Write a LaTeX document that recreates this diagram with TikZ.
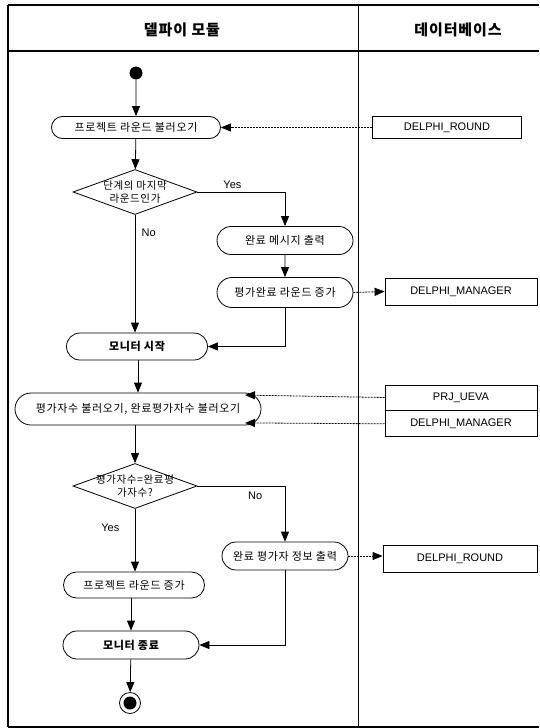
\documentclass[tikz,border=0pt]{standalone}
\usepackage{fontspec}
\setmainfont{Noto Sans CJK KR}[LetterSpace=6]
\newfontfamily\dbfont{Liberation Sans}
\usetikzlibrary{shapes.geometric, shapes.misc, arrows.meta, positioning}
\tikzset{
  actblock/.style={rounded rectangle, draw, line width=0.8pt, minimum width=140pt,
                   minimum height=28pt, inner sep=2pt,
                   font=\fontsize{11}{13}\selectfont},
  decblock/.style={diamond, draw, line width=0.8pt, minimum width=124pt,
                   minimum height=45pt, inner sep=0pt},
  dectext/.style={align=center, font=\fontsize{10.5}{13}\selectfont},
  tblblock/.style={rectangle, draw, line width=0.8pt, minimum width=152pt,
                   minimum height=26pt, inner sep=0pt,
                   font=\dbfont\fontsize{11}{13}\selectfont},
  flowarrow/.style={-{Triangle[length=10pt, width=8pt]}, line width=0.8pt},
  dataarrow/.style={flowarrow, dash pattern=on 2pt off 1pt},
  initstate/.style={circle, fill, minimum size=13pt, inner sep=0pt},
  finalstate/.style={circle, draw, thick, minimum size=21pt, inner sep=0pt,
                     path picture={\fill (path picture bounding box.center) circle (6.5pt);}},
  lanehead/.style={font=\fontsize{15}{17}\selectfont\bfseries},
  guard/.style={font=\dbfont\fontsize{11}{13}\selectfont},
}
\begin{document}
\begin{tikzpicture}[x=1pt, y=-1pt]
  \useasboundingbox (0,0) rectangle (539,728);
  % Frame and swimlanes
  \draw[line width=1.2pt] (539,5) -- (8,5);
  \draw[line width=2.4pt] (8,5) -- (8,727);
  \draw[line width=1.4pt] (8,727) -- (539,727);
  \draw[line width=1.2pt] (8,51) -- (539,51);
  \draw[line width=0.8pt] (358,5) -- (358,727);
  \node[lanehead] (hdrMod) at (182,30) {델파이 모듈};
  \node[lanehead] (hdrDb) at (458,30) {데이터베이스};
  % Module lane
  \node[initstate] (start) at (136,73) {};
  \node[actblock, minimum width=173pt, minimum height=22pt] (loadRound) at (136,127.5) {프로젝트 라운드 불러오기};
  \node[decblock, label={[dectext]center:단계의 마지막\\라운드인가}] (lastRound) at (135,192) {};
  \node[actblock] (msgOut) at (285,240.5) {완료 메시지 출력};
  \node[actblock, minimum height=30pt] (doneIncr) at (285,292.5) {평가완료 라운드 증가};
  \node[actblock, minimum width=145pt, minimum height=27pt, font=\fontsize{11}{13}\selectfont\bfseries] (monStart) at (137,346.5) {모니터 시작};
  \node[actblock, minimum width=250pt, minimum height=32pt] (loadEva) at (138,409) {평가자수 불러오기, 완료평가자수 불러오기};
  \node[decblock, label={[dectext]center:평가자수=완료평\\가자수?}] (allDone) at (135,486) {};
  \node[actblock, minimum width=130pt] (infoOut) at (285,556) {완료 평가자 정보 출력};
  \node[actblock, minimum width=145pt, minimum height=26pt] (prjIncr) at (134,585) {프로젝트 라운드 증가};
  \node[actblock, minimum width=140pt, font=\fontsize{11}{13}\selectfont\bfseries] (monEnd) at (131,645) {모니터 종료};
  \node[finalstate] (stop) at (130,703) {};
  % Database lane
  \node[tblblock, minimum width=149pt, minimum height=22pt] (dbRoundA) at (447,127.5) {DELPHI\_ROUND};
  \node[tblblock, minimum height=27pt] (dbMgrA) at (461,291.5) {DELPHI\_MANAGER};
  \node[tblblock, minimum height=25pt] (dbUeva) at (461,397.5) {PRJ\_UEVA};
  \node[tblblock, below=0pt of dbUeva] (dbMgrB) {DELPHI\_MANAGER};
  \node[tblblock, minimum width=154pt, minimum height=27pt] (dbRoundB) at (460,558.5) {DELPHI\_ROUND};
  % Control flow
  \draw[flowarrow] (start) -- (loadRound);
  \draw[flowarrow] (loadRound) -- (lastRound);
  \draw[flowarrow] (lastRound.east) -| node[guard, pos=0.2, above] {Yes} (msgOut.north);
  \draw[flowarrow] (lastRound.south) -- node[guard, pos=0.15, right=3pt] {No} (monStart.north -| lastRound.south);
  \draw[flowarrow] (msgOut) -- (doneIncr);
  \draw[flowarrow] (doneIncr.south) |- (monStart.east);
  \draw[flowarrow] (monStart.south -| loadEva.north) -- (loadEva.north);
  \draw[flowarrow] (loadEva.south -| allDone.north) -- (allDone.north);
  \draw[flowarrow] (allDone.east) -| node[guard, pos=0.33, below=2pt] {No} (infoOut.north);
  \draw[flowarrow] (allDone.south) -- node[guard, pos=0.3, left=12pt] {Yes} (prjIncr.north -| allDone.south);
  \draw[flowarrow] (prjIncr.south -| monEnd.north) -- (monEnd.north);
  \draw[flowarrow] (infoOut.south) |- (monEnd.east);
  \draw[flowarrow] (monEnd) -- (stop);
  % Data access
  \draw[dataarrow] (dbRoundA.west) -- (loadRound.east);
  \draw[dataarrow] (doneIncr.east) -- (dbMgrA.west);
  \draw[dataarrow] (dbUeva.west) -- ([yshift=-2.5pt]loadEva.north east);
  \draw[dataarrow] (dbMgrB.west) -- ([yshift=2.5pt]loadEva.south east);
  \draw[dataarrow] (infoOut.east) -- (dbRoundB.west |- infoOut.east);
\end{tikzpicture}
\end{document}
